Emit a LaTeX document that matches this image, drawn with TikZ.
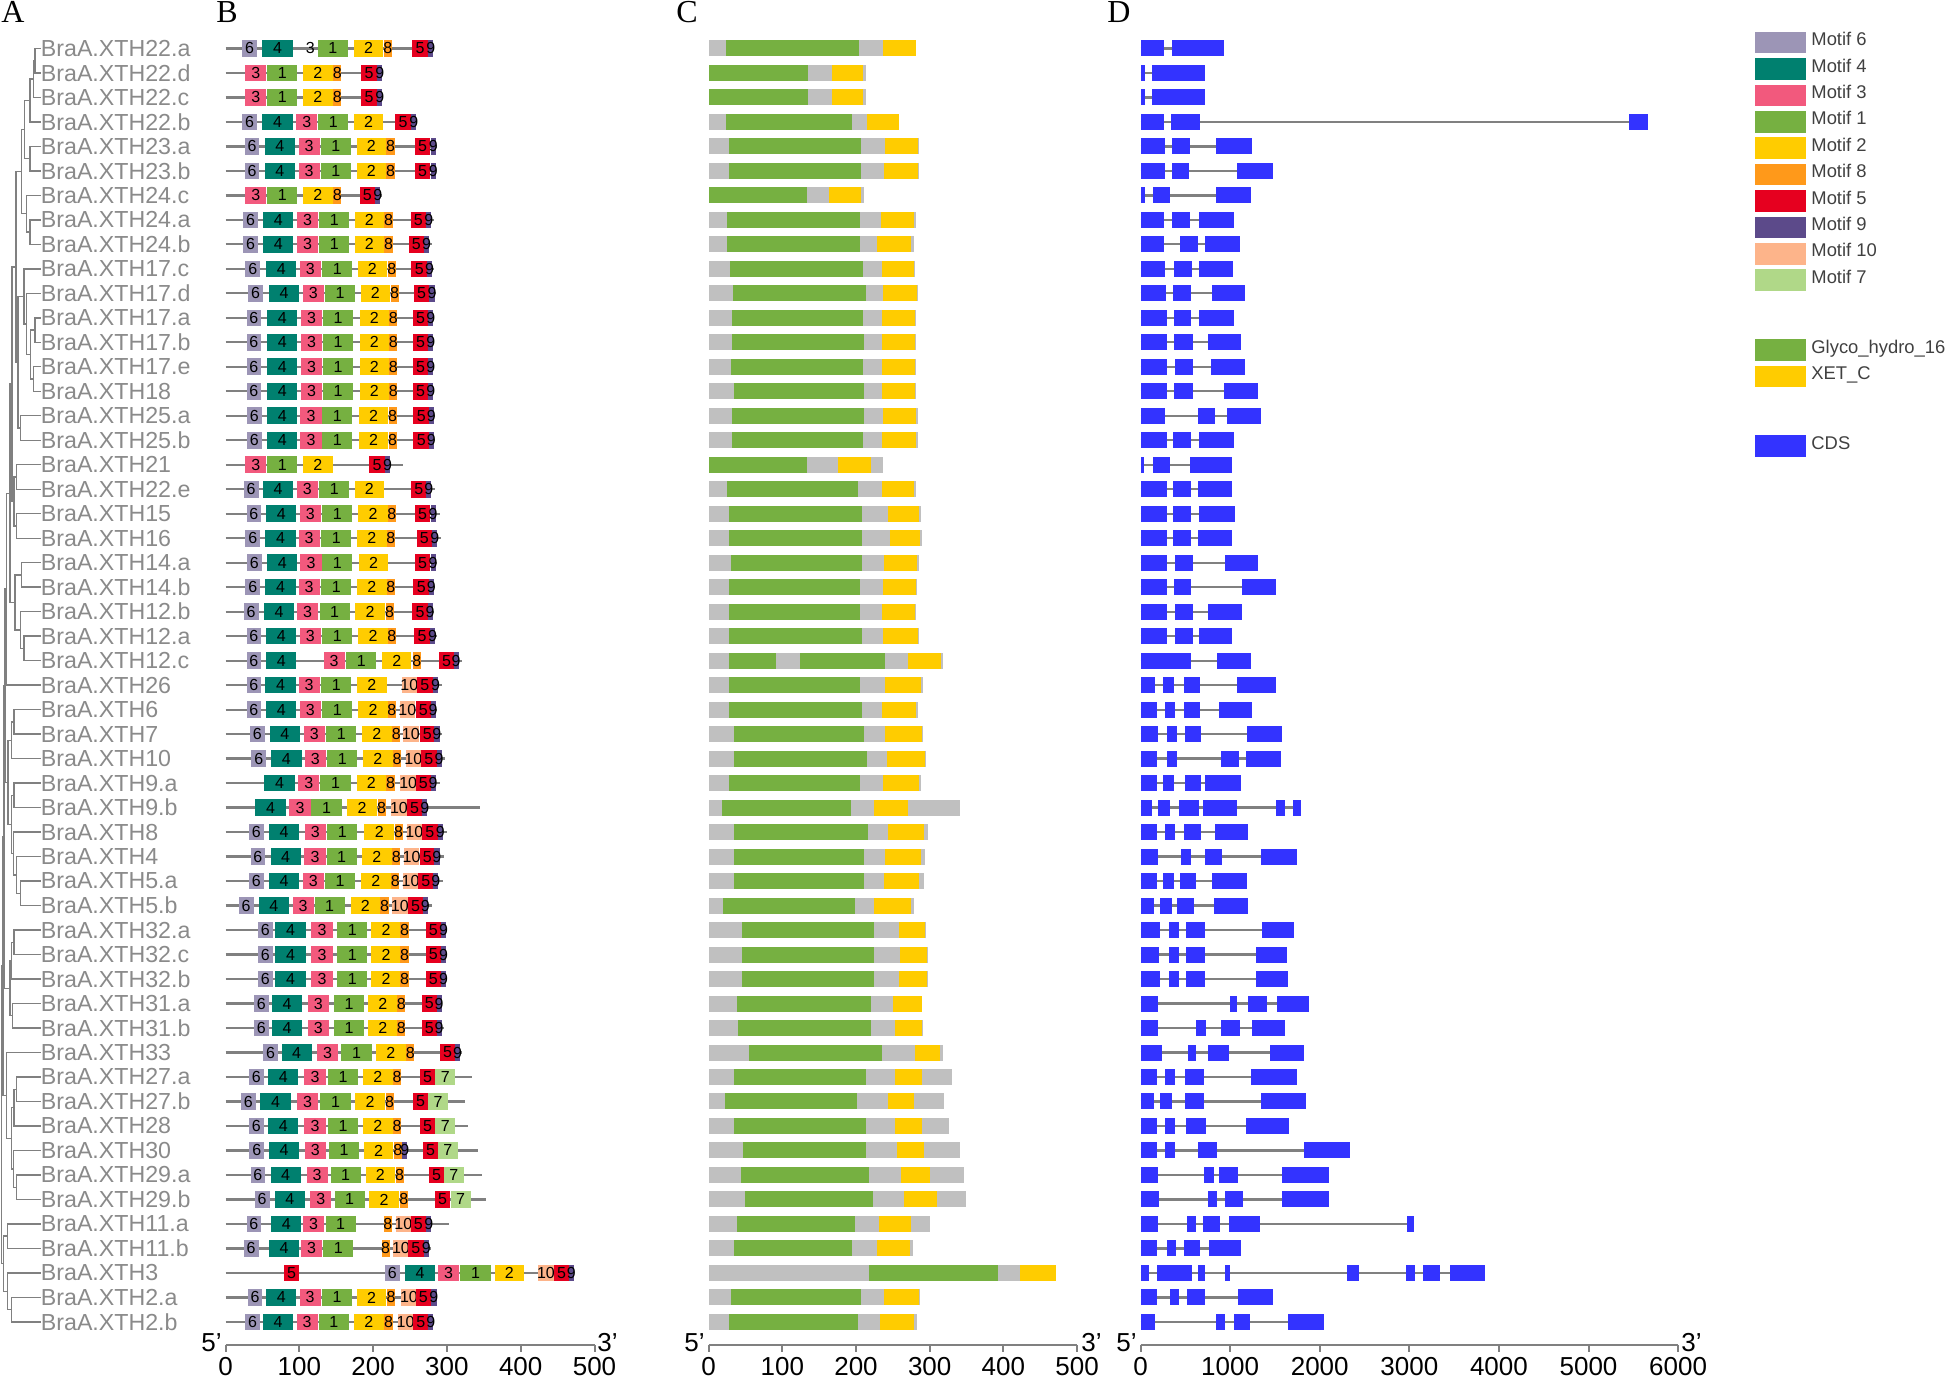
\documentclass[tikz,border=0pt]{standalone}
\usepackage{fontspec}
\setmainfont{Liberation Sans}
\newfontfamily\serifA{Liberation Serif}

\definecolor{m6}{HTML}{9C95B6}
\definecolor{m4}{HTML}{00806F}
\definecolor{m3}{HTML}{F2597D}
\definecolor{m1}{HTML}{76B041}
\definecolor{m2}{HTML}{FFCC00}
\definecolor{m8}{HTML}{FF991A}
\definecolor{m5}{HTML}{E6001F}
\definecolor{m9}{HTML}{5C4A8A}
\definecolor{m10}{HTML}{FDB48A}
\definecolor{m7}{HTML}{B0D888}
\definecolor{cgray}{HTML}{C0C0C0}
\definecolor{cds}{HTML}{3333FF}
\definecolor{lgray}{HTML}{808080}
\definecolor{labgray}{HTML}{8A8A8A}
\definecolor{legtext}{HTML}{404040}

\expandafter\def\csname mw1\endcsname{41}
\expandafter\def\csname mw2\endcsname{40}
\expandafter\def\csname mw3\endcsname{28.5}
\expandafter\def\csname mw4\endcsname{41}
\expandafter\def\csname mw5\endcsname{21}
\expandafter\def\csname mw6\endcsname{20}
\expandafter\def\csname mw7\endcsname{27}
\expandafter\def\csname mw8\endcsname{11}
\expandafter\def\csname mw9\endcsname{7}
\expandafter\def\csname mw10\endcsname{21}

\tikzset{
 bline/.style={draw=lgray, line width=1.15pt},
 treeline/.style={draw=lgray, line width=0.7pt},
 axisline/.style={draw=lgray, line width=1pt},
 mlab/.style={font=\fontsize{8}{8}\selectfont, inner sep=0pt, text=black},
 glab/.style={font=\fontsize{11.6}{12}\selectfont, text=labgray, anchor=west, inner sep=0pt},
 axlab/.style={font=\fontsize{13}{13}\selectfont, inner sep=0pt},
 panel/.style={font=\serifA\fontsize{16}{16}\selectfont, inner sep=0pt},
 legl/.style={font=\fontsize{9.2}{10}\selectfont, text=legtext, anchor=base west, inner sep=0pt},
}

% B row: index, length, motif/start list
\newcommand\brow[3]{%
 \pgfmathsetmacro\yy{48.4+(#1-1)*24.49}%
 \draw[bline] (225.5,\yy) -- ({225.5+#2*0.738},\yy);%
 \foreach \m/\s [count=\k] in {#3}{%
   \pgfmathsetmacro\xa{225.5+\s*0.738}%
   \pgfmathsetmacro\xb{\xa+\csname mw\m\endcsname*0.738}%
   \fill[fill=m\m] (\xa,{\yy-8.3}) rectangle (\xb,{\yy+8.3});%
   \node[mlab] (b#1-\k) at ({(\xa+\xb)/2},\yy) {\m};%
 }}
% C row: index, length, green start/end, yellow start/end
\newcommand\crow[6]{%
 \pgfmathsetmacro\yy{48.4+(#1-1)*24.49}%
 \fill[cgray] (708.6,{\yy-8}) rectangle ({708.6+#2*0.737},{\yy+8});%
 \fill[m1] ({708.6+#3*0.737},{\yy-8}) rectangle ({708.6+#4*0.737},{\yy+8});%
 \fill[m2] ({708.6+#5*0.737},{\yy-8}) rectangle ({708.6+#6*0.737},{\yy+8});}
% D row: index, line end, exon list
\newcommand\drow[3]{%
 \pgfmathsetmacro\yy{48.4+(#1-1)*24.49}%
 \draw[bline] (1140.5,\yy) -- ({1140.5+#2*0.0896},\yy);%
 \foreach \a/\b in {#3}{%
   \fill[cds] ({1140.5+\a*0.0896},{\yy-8}) rectangle ({1140.5+\b*0.0896},{\yy+8});}}
% tree join: x, row a, row b, child x a, child x b
\newcommand\trj[5]{%
 \draw[treeline] (#4,{48.4+(#2-1)*24.49}) -- (#1,{48.4+(#2-1)*24.49}) -- (#1,{48.4+(#3-1)*24.49}) -- (#5,{48.4+(#3-1)*24.49});}

\begin{document}
\begin{tikzpicture}[x=0.5pt,y=-0.5pt]
\useasboundingbox (0,0) rectangle (1946,1378);

% panel letters
\node[panel] (pA) at (13,12) {A};
\node[panel] (pB) at (227,12) {B};
\node[panel] (pC) at (687,12) {C};
\node[panel] (pD) at (1119,12) {D};

% ---------- tree ----------
\trj{35}{1}{2}{40.5}{40.5}
\trj{33.3}{1.5}{3}{35}{40.5}
\trj{30}{2.25}{4}{33.3}{40.5}
\trj{30}{5}{6}{40.5}{40.5}
\trj{24.5}{3.125}{5.5}{30}{30}
\trj{30}{8}{9}{40.5}{40.5}
\trj{26.7}{7}{8.5}{40.5}{30}
\trj{21.5}{4.3125}{7.75}{24.5}{26.7}
\trj{35}{12}{13}{40.5}{40.5}
\trj{33.3}{14}{15}{40.5}{40.5}
\trj{30.7}{12.5}{14.5}{35}{33.3}
\trj{26.7}{11}{13.5}{40.5}{30.7}
\trj{24}{10}{12.25}{40.5}{26.7}
\trj{20.7}{16}{17}{40.5}{40.5}
\trj{18}{11.125}{16.5}{24}{20.7}
\trj{16}{6.03}{13.81}{21.5}{18}
\trj{16.7}{18}{19}{40.5}{40.5}
\trj{16.7}{20}{21}{40.5}{40.5}
\trj{14}{18.5}{20.5}{16.7}{16.7}
\trj{12}{9.92}{19.5}{16}{14}
\trj{21.7}{22}{23}{40.5}{40.5}
\trj{24}{25}{26}{40.5}{40.5}
\trj{20.7}{24}{25.5}{40.5}{24}
\trj{15}{22.5}{24.75}{21.7}{20.7}
\trj{10}{14.71}{23.625}{12}{15}
\trj{6.7}{19.17}{27}{10}{40.5}
\trj{14}{28}{29}{40.5}{40.5}
\trj{11.7}{28.5}{30}{14}{40.5}
\trj{14}{31}{32}{40.5}{40.5}
\trj{20.7}{35}{36}{40.5}{40.5}
\trj{16.7}{34}{35.5}{40.5}{20.7}
\trj{13.3}{33}{34.75}{40.5}{16.7}
\trj{11.7}{31.5}{33.875}{14}{13.3}
\trj{8}{29.25}{32.69}{11.7}{11.7}
\trj{14}{37}{38}{40.5}{40.5}
\trj{11.7}{37.5}{39}{14}{40.5}
\trj{12.7}{40}{41}{40.5}{40.5}
\trj{10}{38.25}{40.5}{11.7}{12.7}
\trj{16.7}{43}{44}{40.5}{40.5}
\trj{14}{43.5}{45}{16.7}{40.5}
\trj{16.7}{47}{48}{40.5}{40.5}
\trj{13.3}{46}{47.5}{40.5}{16.7}
\trj{11.7}{44.25}{46.75}{14}{13.3}
\trj{6.7}{42}{45.5}{40.5}{11.7}
\trj{7.3}{49}{50}{40.5}{40.5}
\trj{11.7}{52}{53}{40.5}{40.5}
\trj{7.3}{51}{52.5}{40.5}{11.7}
\trj{3.3}{49.5}{51.75}{7.3}{7.3}
\trj{5}{23.08}{30.97}{6.7}{8}
\trj{4}{27.02}{39.375}{5}{10}
\trj{3}{33.2}{43.75}{4}{6.7}
\trj{1.5}{38.47}{50.625}{3}{3.3}

% ---------- gene labels ----------
\foreach \n [count=\i] in {22.a,22.d,22.c,22.b,23.a,23.b,24.c,24.a,24.b,17.c,17.d,17.a,17.b,17.e,18,25.a,25.b,21,22.e,15,16,14.a,14.b,12.b,12.a,12.c,26,6,7,10,9.a,9.b,8,4,5.a,5.b,32.a,32.c,32.b,31.a,31.b,33,27.a,27.b,28,30,29.a,29.b,11.a,11.b,3,2.a,2.b}
  \node[glab] (g\i) at (40.5,{48.4+(\i-1)*24.49}) {BraA.XTH\n};

% ---------- panel B ----------
\brow{1}{282}{6/22.6,4/50,1/125,2/174,8/214.5,5/253,9/274.6}
\node[mlab] (b1-x) at ({225.5+115*0.738},48.4) {3};
\brow{2}{212}{3/27,1/56.5,2/105,8/146,5/184,9/205.5}
\brow{3}{212}{3/27,1/56.5,2/105,8/146,5/184,9/205.5}
\brow{4}{260}{6/22.6,4/50,3/96,1/125.6,2/174,5/230,9/251.6}
\brow{5}{287}{6/26,4/53,3/99,1/129,2/177.5,8/218,5/256.5,9/278}
\brow{6}{285}{6/26,4/53,3/99,1/129,2/177.5,8/218,5/256.5,9/278}
\brow{7}{212}{3/27,1/56.5,2/105,8/146,5/181.6,9/203}
\brow{8}{282}{6/24,4/51,3/97,1/127,2/175,8/215.4,5/250.7,9/272}
\brow{9}{280}{6/24,4/51,3/97,1/127,2/175,8/215.4,5/248,9/269}
\brow{10}{282}{6/27,4/55,3/100.7,1/131,2/179,8/220,5/252,9/273}
\brow{11}{285}{6/30.7,4/58.7,3/104.8,1/134.6,2/183,8/223.6,5/255,9/276.4}
\brow{12}{282}{6/28.5,4/56.5,3/102.5,1/132,2/181.6,8/221.8,5/253.8,9/274.6}
\brow{13}{282}{6/28.5,4/56.5,3/102.5,1/132,2/181.6,8/221.8,5/253.8,9/274.6}
\brow{14}{282}{6/28.5,4/56.5,3/102.5,1/132,2/181.6,8/221.8,5/253.8,9/274.6}
\brow{15}{282}{6/28.5,4/56.5,3/102.5,1/132,2/181.6,8/221.8,5/253.8,9/274.6}
\brow{16}{284.5}{6/29,4/56.5,3/101.6,1/131,2/180.7,8/221,5/254.7,9/275.5}
\brow{17}{284.5}{6/29,4/56.5,3/101.6,1/131,2/180.7,8/221,5/254.7,9/275.5}
\brow{18}{240.7}{3/27,1/56.5,2/105,5/195,9/216}
\brow{19}{284.5}{6/24.8,4/50.6,3/96.7,1/127,2/175,5/251.6,9/272}
\brow{20}{290}{6/28.5,4/55,3/100.7,1/131,2/179.8,8/220,5/256.5,9/277.8}
\brow{21}{292}{6/27,4/54,3/99,1/129.6,2/178.4,8/218.6,5/258.8,9/280}
\brow{22}{286.8}{6/29,4/56.5,3/101.6,1/131,2/180.7,5/256.5,9/277.8}
\brow{23}{284.5}{6/27,4/54,3/99,1/129.6,2/178.4,8/218.6,5/254.7,9/275.5}
\brow{24}{282}{6/24.8,4/52,3/97,1/127.4,2/176,8/216.8,5/253,9/273.7}
\brow{25}{286.8}{6/28.5,4/55,3/100.7,1/131,2/179.8,8/220,5/256,9/277}
\brow{26}{320}{6/28.5,4/55,3/133,1/163.5,2/212,8/253.8,5/289,9/309}
\brow{27}{292.7}{6/28.5,4/54,3/99,1/129.6,2/178.4,10/238.5,5/259.7,9/281}
\brow{28}{286.8}{6/28.5,4/55,3/100.7,1/131,2/179.8,8/220,10/235.8,5/257.5,9/277.8}
\brow{29}{293.6}{6/33,4/60,3/106,1/136.4,2/185,8/225.8,10/240.7,5/262.9,9/283}
\brow{30}{298}{6/35,4/62,3/107.5,1/137.8,2/186.5,8/227,10/243.9,5/265,9/286}
\brow{31}{291}{4/52.8,3/98.5,1/128.7,2/177.5,8/218,10/237,5/257.5,9/277.8}
\brow{32}{345.5}{4/40.6,3/86.7,1/116.5,2/165,8/206,10/224.5,5/245.7,9/266.5}
\brow{33}{300}{6/31.6,4/58.7,3/107.5,1/137.8,2/188.3,8/229,10/245.3,5/266.5,9/287.7}
\brow{34}{295.8}{6/33.9,4/61,3/107,1/136.9,2/185.2,8/225.8,10/241.6,5/262.9,9/283}
\brow{35}{294.5}{6/31.6,4/58.7,3/104.8,1/134.6,2/183.8,8/224.5,10/240.3,5/261,9/281.4}
\brow{36}{280}{6/18,4/45,3/91,1/120.6,2/169.4,8/210,10/225.8,5/247,9/267.4}
\brow{37}{300}{6/43.8,4/67.7,3/116.5,1/151.3,2/197.4,8/237,5/271,9/292}
\brow{38}{300}{6/43.8,4/67.7,3/116.5,1/151.3,2/197.4,8/237,5/271,9/292}
\brow{39}{300}{6/43.8,4/67.7,3/116.5,1/151.3,2/197.4,8/237,5/271,9/292}
\brow{40}{293.6}{6/38.4,4/63,3/111.6,1/146.8,2/193,8/232.6,5/265.6,9/286}
\brow{41}{296}{6/38.4,4/63,3/111.6,1/146.8,2/193,8/232.6,5/265.6,9/286}
\brow{42}{320.7}{6/51,4/75.9,3/124,1/157,2/204,8/244.8,5/290.4,9/311}
\brow{43}{334}{6/31.6,4/57.8,3/107,1/138.7,2/186.5,8/227,5/263.3,7/284.5}
\brow{44}{324}{6/21,4/47.4,3/97,1/128.7,2/176,8/216.8,5/253.8,7/274.6}
\brow{45}{329}{6/31.6,4/57.8,3/107,1/138.7,2/186.5,8/227,5/263.3,7/284.5}
\brow{46}{342.4}{6/32.5,4/58.7,3/107.5,1/140,2/187.4,8/228,9/239.4,5/267.4,7/287.7}
\brow{47}{347.8}{6/33.9,4/61,3/109.8,1/142.3,2/189.7,8/230.4,5/275.5,7/295.8}
\brow{48}{352.3}{6/39.7,4/66.8,3/115,1/147.7,2/195,8/236,5/283.6,7/305}
\brow{49}{302.6}{6/28.5,4/61.9,3/105,1/135.5,8/214.5,10/230.4,5/250.7,9/272}
\brow{50}{277.8}{6/24.8,4/58.7,3/102.5,1/132.3,8/211.4,10/227.2,5/247.5,9/268.7}
\brow{51}{472}{5/79,6/216,4/243,3/288,1/318.4,2/364.5,10/423.7,5/445,9/465}
\brow{52}{286.7}{6/30,4/55,3/100.4,1/130.6,2/177.9,8/219,10/238,5/257.7,9/278.9}
\brow{53}{280}{6/26.6,4/50.8,3/96.2,1/126.4,2/174.2,8/215.4,10/233.5,5/254,9/274.6}

% ---------- panel C ----------
\crow{1}{282}{24}{204}{236}{281}
\crow{2}{213}{1}{135}{167}{210}
\crow{3}{213}{1}{135}{167}{210}
\crow{4}{259}{24}{194}{215}{258}
\crow{5}{286}{27}{207}{239}{284}
\crow{6}{286}{27}{207}{238}{284}
\crow{7}{211}{1}{134}{163}{207}
\crow{8}{281}{25}{205}{234}{278}
\crow{9}{278}{25}{205}{229}{275}
\crow{10}{280}{29}{209}{235}{279}
\crow{11}{284}{33}{213}{237}{283}
\crow{12}{282}{32}{210}{235}{280}
\crow{13}{281}{32}{211}{235}{280}
\crow{14}{282}{30}{210}{235}{280}
\crow{15}{282}{34}{211}{235}{280}
\crow{16}{284}{32}{211}{237}{282}
\crow{17}{284}{32}{210}{235}{282}
\crow{18}{237}{1}{134}{176}{221}
\crow{19}{282}{25}{203}{235}{279}
\crow{20}{288}{28}{208}{243}{285}
\crow{21}{290}{28}{208}{246}{287}
\crow{22}{285}{30}{208}{238}{283}
\crow{23}{283}{27}{205}{237}{282}
\crow{24}{282}{27}{205}{235}{280}
\crow{25}{285}{28}{208}{237}{284}
\crow{26}{318}{28}{240}{270}{315}
\fill[cgray] ({708.6+92*0.737},{48.4+25*24.49-8}) rectangle ({708.6+124*0.737},{48.4+25*24.49+8});
\crow{27}{291}{28}{205}{240}{288}
\crow{28}{284}{28}{208}{235}{282}
\crow{29}{291}{34}{211}{239}{289}
\crow{30}{295}{35}{215}{242}{293}
\crow{31}{288}{28}{205}{237}{285}
\crow{32}{341}{18}{193}{225}{270}
\crow{33}{298}{34}{216}{243}{292}
\crow{34}{293}{35}{211}{240}{288}
\crow{35}{292}{34}{211}{238}{286}
\crow{36}{278}{20}{198}{225}{274}
\crow{37}{295}{45}{225}{258}{294}
\crow{38}{297}{45}{225}{260}{296}
\crow{39}{297}{45}{225}{258}{296}
\crow{40}{290}{39}{220}{250}{289}
\crow{41}{291}{40}{220}{253}{289}
\crow{42}{318}{55}{235}{280}{314}
\crow{43}{330}{34}{213}{253}{290}
\crow{44}{320}{22}{201}{243}{279}
\crow{45}{326}{34}{213}{253}{290}
\crow{46}{341}{46}{214}{256}{292}
\crow{47}{346.5}{44}{217}{261}{300}
\crow{48}{349.5}{50}{223.5}{265}{309.5}
\crow{49}{300}{38}{199}{231}{275}
\crow{50}{277}{35}{194}{228}{273}
\crow{51}{471}{217}{393}{423}{471}
\crow{52}{287}{31}{206.5}{238}{285}
\crow{53}{283}{27}{203}{232}{279}

% ---------- panel D ----------
\drow{1}{928}{0/263,346/928}
\drow{2}{720}{0/54,128/720}
\drow{3}{720}{0/54,128/720}
\drow{4}{5664}{0/262,340/664,5457/5664}
\drow{5}{1244}{0/273,352/552,842/1244}
\drow{6}{1479}{0/273,352/545,1077/1479}
\drow{7}{1233}{0/54,136/329,842/1233}
\drow{8}{1043}{0/266,352/552,649/1043}
\drow{9}{1110}{0/266,441/642,724/1110}
\drow{10}{1032}{0/277,374/575,656/1032}
\drow{11}{1166}{0/289,366/567,794/1166}
\drow{12}{1039}{0/291,374/568,651/1039}
\drow{13}{1122}{0/291,374/582,748/1122}
\drow{14}{1163}{0/291,388/582,789/1163}
\drow{15}{1316}{0/291,374/582,928/1316}
\drow{16}{1343}{0/277,637/831,970/1343}
\drow{17}{1039}{0/291,360/568,651/1039}
\drow{18}{1025}{0/42,139/332,554/1025}
\drow{19}{1025}{0/291,360/568,637/1025}
\drow{20}{1053}{0/291,360/568,651/1053}
\drow{21}{1025}{0/291,360/568,637/1025}
\drow{22}{1316}{0/291,388/582,942/1316}
\drow{23}{1510}{0/291,374/568,1136/1510}
\drow{24}{1136}{0/291,388/582,748/1136}
\drow{25}{1025}{0/291,388/582,651/1025}
\drow{26}{1233}{0/568,859/1233}
\drow{27}{1510}{0/166,249/374,485/665,1080/1510}
\drow{28}{1247}{0/180,277/388,485/665,873/1247}
\drow{29}{1579}{0/194,291/402,499/679,1191/1579}
\drow{30}{1565}{0/180,291/402,900/1094,1177/1565}
\drow{31}{1122}{0/180,249/374,499/679,720/1122}
\drow{32}{1787}{0/125,194/332,429/651,693/1080,1510/1607,1704/1787}
\drow{33}{1205}{0/180,277/388,485/679,831/1205}
\drow{34}{1745}{0/194,457/568,720/914,1343/1745}
\drow{35}{1191}{0/180,249/374,443/623,803/1191}
\drow{36}{1205}{0/152,222/346,402/596,817/1205}
\drow{37}{1717}{0/222,319/429,512/720,1357/1717}
\drow{38}{1634}{0/208,319/429,512/720,1288/1634}
\drow{39}{1648}{0/222,319/429,512/720,1288/1648}
\drow{40}{1884}{0/194,997/1080,1205/1413,1523/1884}
\drow{41}{1607}{0/194,623/734,900/1108,1247/1607}
\drow{42}{1828}{0/235,526/623,748/983,1440/1828}
\drow{43}{1745}{0/180,277/388,499/706,1233/1745}
\drow{44}{1842}{0/152,222/346,499/706,1343/1842}
\drow{45}{1662}{0/180,277/388,512/734,1177/1662}
\drow{46}{2334}{0/186,277/381,640/854,1825/2334}
\drow{47}{2109}{0/199,705/815,880/1088,1577/2109}
\drow{48}{2109}{0/210,755/854,939/1148,1577/2109}
\drow{49}{3050}{0/195,519/620,694/883,993/1331,2975/3050}
\drow{50}{1117}{0/188,296/395,484/668,759/1117}
\drow{51}{3843}{0/100,185/569,644/719,943/1003,2303/2437,2961/3060,3151/3345,3459/3843}
\drow{52}{1481}{0/179,330/429,524/719,1083/1481}
\drow{53}{2045}{0/164,843/943,1042/1227,1651/2045}

% ---------- axes ----------
\draw[axisline] (225.5,1345) -- (594.5,1345);
\foreach \t in {0,100,...,500} {
  \draw[axisline] ({225.5+\t*0.738},1345) -- ++(0,7);
  \node[axlab] (bx\t) at ({225.5+\t*0.738},1367) {\t};
}
\node[axlab,anchor=east] (b5p) at (222,1343) {5'};
\node[axlab,anchor=west] (b3p) at (597,1343) {3'};

\draw[axisline] (708.6,1345) -- (1077.1,1345);
\foreach \t in {0,100,...,500} {
  \draw[axisline] ({708.6+\t*0.737},1345) -- ++(0,7);
  \node[axlab] (cx\t) at ({708.6+\t*0.737},1367) {\t};
}
\node[axlab,anchor=east] (c5p) at (705,1343) {5'};
\node[axlab,anchor=west] (c3p) at (1081,1343) {3'};

\draw[axisline] (1140.5,1345) -- (1678.1,1345);
\foreach \t in {0,1000,...,6000} {
  \draw[axisline] ({1140.5+\t*0.0896},1345) -- ++(0,7);
  \node[axlab] (dx\t) at ({1140.5+\t*0.0896},1367) {\t};
}
\node[axlab,anchor=east] (d5p) at (1137,1343) {5'};
\node[axlab,anchor=west] (d3p) at (1681,1343) {3'};

% ---------- legend ----------
\foreach \m [count=\k from 0] in {6,4,3,1,2,8,5,9,10,7} {
  \fill[fill=m\m] (1755,{31.7+\k*26.4}) rectangle (1806,{53.4+\k*26.4});
  \node[legl] (leg\m) at (1811,{31.7+\k*26.4+14.05}) {Motif \m};
}
\fill[m1] (1755,339.3) rectangle (1806,361);
\node[legl] (legG) at (1811,353.4) {Glyco\_hydro\_16};
\fill[m2] (1755,365.7) rectangle (1806,387.4);
\node[legl] (legX) at (1811,379.8) {XET\_C};
\fill[cds] (1755,435) rectangle (1806,456.7);
\node[legl] (legC) at (1811,449.1) {CDS};

\end{tikzpicture}
\end{document}
